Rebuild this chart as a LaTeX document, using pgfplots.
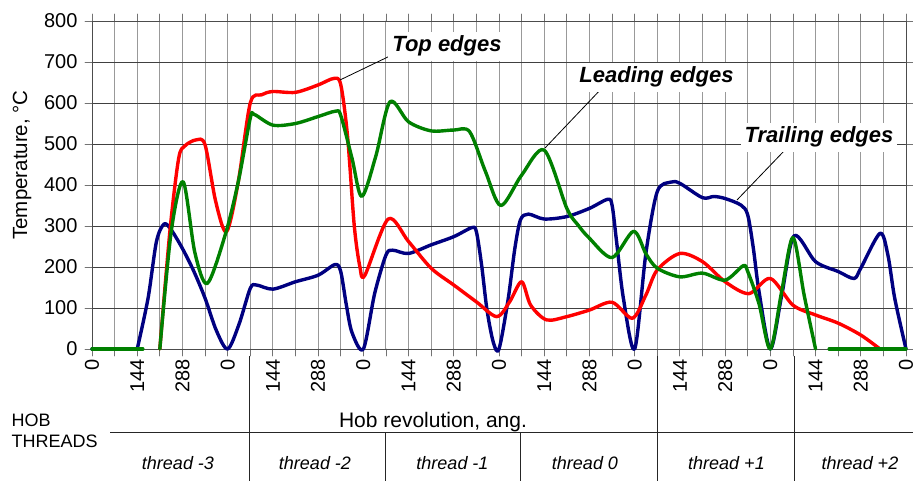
\documentclass[border=0pt]{standalone}
\usepackage{fontspec}
\setmainfont{Liberation Sans}
\setsansfont{Liberation Sans}
\usepackage{pgfplots}
\pgfplotsset{compat=1.18}
\definecolor{cred}{RGB}{255,0,0}
\definecolor{cgreen}{RGB}{0,128,0}
\definecolor{cblue}{RGB}{0,0,128}
\newcommand\fs[1]{\fontsize{#1}{#1}\selectfont}
\begin{document}
\begin{tikzpicture}[x=1pt,y=1pt]
\path[use as bounding box] (0,0) rectangle (913,481);
\begin{axis}[
  at={(92pt,132pt)}, anchor=south west,
  width=814pt, height=328pt, scale only axis,
  xmin=0, xmax=36, ymin=0, ymax=800,
  clip=false,
  /pgf/number format/assume math mode=true,
  xtick={0,2,...,36},
  xticklabels={0,144,288,0,144,288,0,144,288,0,144,288,0,144,288,0,144,288,0},
  minor xtick={1,3,...,35},
  ytick={0,100,...,800},
  grid=both,
  major x grid style={black!40, line width=0.9pt},
  minor x grid style={black!40, line width=0.9pt},
  major y grid style={black!75, line width=0.7pt},
  tick align=outside,
  major tick length=7pt, minor tick length=7pt,
  every tick/.style={black!55, line width=0.8pt},
  axis line style={black!70, line width=0.8pt},
  xticklabel style={rotate=90, anchor=east, font=\fs{20}},
  yticklabel style={font=\fs{20}, xshift=-4pt},
  ylabel={Temperature, °C},
  ylabel style={font=\fs{20.5}, at={(axis description cs:-0.086,0.561)}, anchor=center},
  line join=round, line cap=round,
]
% Trailing edges (blue)
\addplot[cblue, line width=3.4pt] coordinates {(0,0) (2,0)};
\addplot[cblue, line width=3.4pt, smooth] coordinates {
 (2,0) (2.48,124) (2.85,262) (3.19,305) (3.51,290) (4,245) (4.5,190) (5,124) (5.5,45) (6,0)
 (6.5,60) (7,148) (7.28,156) (8,146) (9,164) (10,180) (10.75,206) (11,189) (11.25,107) (11.5,40) (12,0)
 (12.5,135) (13,229) (13.3,241) (14,233) (15,254) (16,274) (16.8,296) (17,286) (17.23,205) (17.47,95) (17.75,16) (18,0)
 (18.4,120) (18.7,245) (18.95,315) (19.3,329) (20,317) (21,323) (22,343) (22.8,365) (23,351) (23.2,262) (23.5,124) (24,0)
 (24.5,235) (25,384) (25.6,407) (26,404) (27,369) (27.5,372) (28,367) (28.7,351) (29,327) (29.25,245) (29.5,140) (30,0)
 (30.5,130) (31.05,276) (32,213) (33,189) (33.7,172) (34,197) (34.85,282) (35.2,229) (35.5,124) (36,0)};
% Top edges (red)
\addplot[cred, line width=3.4pt, smooth] coordinates {
 (3,0) (3.45,290) (3.83,464) (4.1,495) (4.6,510) (5,498) (5.47,360) (5.95,286) (6.47,408) (7,600) (7.5,620)
 (8,628) (9,626) (10,644) (10.7,660) (11,645) (11.3,520) (11.6,300) (11.85,200) (12.07,180) (13.1,317)
 (14,262) (15,197) (16,156) (17,115) (17.9,79) (18.47,115) (19,164) (19.4,107) (20.1,71) (21,79)
 (22,95) (23,114) (23.9,75) (24.5,132) (25,193) (26,233) (27,213) (28,164) (29.05,135) (30,172)
 (31,107) (32,83) (33,63) (34,34) (34.85,0)};
% Leading edges (green)
\addplot[cgreen, line width=3.4pt] coordinates {(0,0) (2.25,0)};
\addplot[cgreen, line width=3.4pt] coordinates {(32.6,0) (36,0)};
\addplot[cgreen, line width=3.4pt, smooth] coordinates {
 (3,0) (3.5,285) (4.03,408) (4.55,235) (5.1,160) (5.9,280) (6.47,408) (7,563) (7.18,572) (8,546)
 (9,550) (10,567) (10.77,580) (11,570) (11.5,465) (11.93,372) (12.55,470) (13.18,603) (14,554)
 (15,532) (16,534) (16.7,530) (17.4,433) (18.08,350) (19,424) (20,485) (21,343) (21.5,302) (22,270)
 (23,223) (23.95,287) (24.5,232) (25,197) (26,176) (27,185) (28,168) (28.8,203) (29,189) (29.5,110)
 (30,0) (30.5,140) (31,272) (31.5,130) (32,0)};
\end{axis}
% annotations
\draw[black, line width=0.8pt] (340,401) -- (392,426);
\draw[black, line width=0.8pt] (545,333) -- (603,394);
\draw[black, line width=0.8pt] (737,281) -- (785,331);
\node[fill=white, inner sep=4pt, anchor=base, font=\fs{22}\bfseries\itshape] at (447,429) {Top edges};
\node[fill=white, inner sep=4pt, anchor=base, font=\fs{22}\bfseries\itshape] at (656.5,398) {Leading edges};
\node[fill=white, inner sep=4pt, anchor=base, font=\fs{22}\bfseries\itshape] at (819,338) {Trailing edges};
% lower table
\node[anchor=base west, font=\fs{18}] at (8,54) {HOB};
\node[anchor=base west, font=\fs{18}] at (8,33) {THREADS};
\node[anchor=base, font=\fs{21}] at (433,53) {Hob revolution, ang.};
\draw[black!85, line width=0.9pt] (110,48.7) -- (913,48.7);
\draw[black!85, line width=0.9pt] (249.5,125) -- (249.5,0);
\draw[black!85, line width=0.9pt] (385.5,48.7) -- (385.5,0);
\draw[black!85, line width=0.9pt] (520.5,48.7) -- (520.5,0);
\draw[black!85, line width=0.9pt] (657.5,125) -- (657.5,0);
\draw[black!85, line width=0.9pt] (794,125) -- (794,0);
\node[anchor=base, font=\fs{18}\itshape] at (178,11) {thread -3};
\node[anchor=base, font=\fs{18}\itshape] at (315,11) {thread -2};
\node[anchor=base, font=\fs{18}\itshape] at (452.5,11) {thread -1};
\node[anchor=base, font=\fs{18}\itshape] at (585,11) {thread 0};
\node[anchor=base, font=\fs{18}\itshape] at (726.5,11) {thread +1};
\node[anchor=base, font=\fs{18}\itshape] at (860,11) {thread +2};
\end{tikzpicture}
\end{document}
